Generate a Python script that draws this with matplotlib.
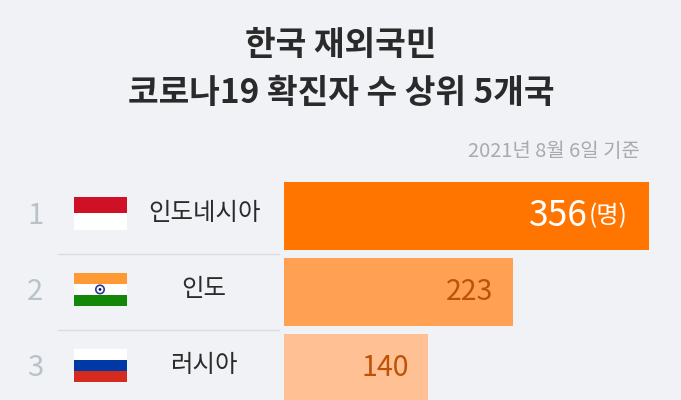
import matplotlib.pyplot as plt
from matplotlib.patches import Rectangle, Circle

plt.rcParams['font.family'] = ['Noto Sans CJK KR', 'DejaVu Sans']

countries = ['인도네시아', '인도', '러시아']
ranks = ['1', '2', '3']
values = [356, 223, 140]
bar_colors = ['#FF7500', '#FFA052', '#FFC093']
value_colors = ['#FFFFFF', '#BE5208', '#BE5208']
flags = [['#CE1126', '#FFFFFF'],
         ['#FF9933', '#FFFFFF', '#138808'],
         ['#FFFFFF', '#0039A6', '#D52B1E']]

W, H = 681, 400
BG = '#F0F2F5'
ROW = 76

fig = plt.figure(figsize=(W / 100, H / 100), dpi=100, facecolor=BG)

# bars, on their own axes so the value scale does the work
ax = fig.add_axes([284 / W, 0, 365 / W, 1])
ax.barh(range(len(values)), values, height=68 / ROW, color=bar_colors)
ax.set_xlim(0, 356)
ax.set_ylim((H - 216) / ROW, -216 / ROW)
ax.axis('off')

# everything else is placed in pixels of the picture
ov = fig.add_axes([0, 0, 1, 1], zorder=3)
ov.set_xlim(0, W)
ov.set_ylim(H, 0)
ov.axis('off')

ov.text(341, 46, '한국 재외국민', ha='center', va='center', fontsize=24,
        fontweight='bold', color='#2A2A2A')
ov.text(341, 93, '코로나19 확진자 수 상위 5개국', ha='center', va='center', fontsize=24,
        fontweight='bold', color='#2A2A2A')
ov.text(640, 151.5, '2021년 8월 6일 기준', ha='right', va='center', fontsize=14.4,
        color='#A8AAAD')

for i, name in enumerate(countries):
    cy = 216 + i * ROW
    ov.text(35, cy, ranks[i], ha='center', va='center', fontsize=21,
            fontweight='light', color='#B9C1C9')
    ov.text(204, cy - 3, name, ha='center', va='center', fontsize=17.6,
            color='#2B2B2B')

    # flag
    top = cy - 18.8
    n = len(flags[i])
    for j, c in enumerate(flags[i]):
        ov.add_patch(Rectangle((74, top + j * 32.5 / n), 52.5, 32.5 / n, fc=c, ec='none'))
    if i == 1:
        ov.add_patch(Circle((100, top + 16.25), 4.2, fc='#FFFFFF', ec='#2B3A94', lw=1.2))
        ov.add_patch(Circle((100, top + 16.25), 1.4, fc='#000080', ec='none'))

    if i < len(countries) - 1:
        ov.plot([58, 279], [cy + 38, cy + 38], color='#DADDE1', lw=1)

for i, v in enumerate(values):
    cy = 216 + i * ROW
    if i == 0:
        ov.text(588, cy, str(v), ha='right', va='center', fontsize=25.5, color=value_colors[i])
        ov.text(628, cy, '(명)', ha='right', va='center', fontsize=17.5, color=value_colors[i])
    else:
        end = 284 + v * 365 / 356
        ov.text(end - 19, cy, str(v), ha='right', va='center', fontsize=20.5,
                fontweight='light', color=value_colors[i])

fig.savefig('out.png', dpi=100, facecolor=BG)
